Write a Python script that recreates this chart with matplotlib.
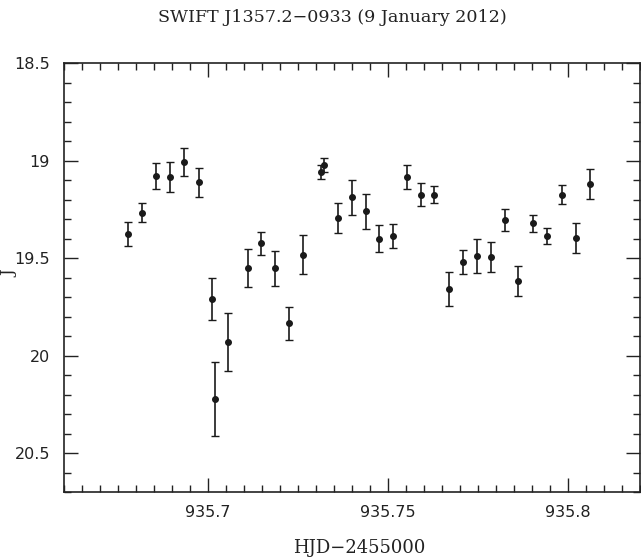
import numpy as np
import matplotlib
matplotlib.use("Agg")
import matplotlib.pyplot as plt
from matplotlib.ticker import MultipleLocator, FuncFormatter

# J-band light curve, SWIFT J1357.2-0933, 9 January 2012
hjd = [935.6778, 935.6817, 935.6856, 935.6895, 935.6934, 935.6974,
       935.7011, 935.7019, 935.7056, 935.7111, 935.7148, 935.7187,
       935.7224, 935.7265, 935.7313, 935.7322, 935.7361, 935.7400,
       935.7438, 935.7476, 935.7515, 935.7552, 935.7593, 935.7629,
       935.7670, 935.7708, 935.7748, 935.7785, 935.7824, 935.7862,
       935.7903, 935.7941, 935.7983, 935.8021, 935.8062]
jmag = [19.376, 19.266, 19.078, 19.081, 19.006, 19.110,
        19.709, 20.221, 19.931, 19.550, 19.423, 19.552,
        19.833, 19.481, 19.057, 19.021, 19.292, 19.188,
        19.260, 19.399, 19.385, 19.083, 19.173, 19.173,
        19.657, 19.518, 19.489, 19.491, 19.305, 19.615,
        19.321, 19.387, 19.173, 19.396, 19.117]
jerr = [0.061, 0.049, 0.065, 0.077, 0.070, 0.075,
        0.109, 0.188, 0.148, 0.099, 0.060, 0.090,
        0.085, 0.100, 0.036, 0.037, 0.077, 0.092,
        0.091, 0.071, 0.063, 0.061, 0.057, 0.044,
        0.088, 0.063, 0.087, 0.077, 0.056, 0.077,
        0.043, 0.042, 0.047, 0.078, 0.077]

W, H = 641, 559
fig = plt.figure(figsize=(W / 100, H / 100), dpi=100)
ax = fig.add_axes([64 / W, 66.7 / H, 576 / W, 429 / H])

ax.errorbar(hjd, jmag, yerr=jerr, fmt="o", ms=4, color="#1a1a1a",
            ecolor="#1a1a1a", elinewidth=1.2, capsize=2.8, capthick=1.0)

ax.set_xlim(935.66, 935.82)
ax.set_ylim(20.7, 18.5)

ax.xaxis.set_major_locator(MultipleLocator(0.05))
ax.xaxis.set_minor_locator(MultipleLocator(0.005))
ax.yaxis.set_major_locator(MultipleLocator(0.5))
ax.yaxis.set_minor_locator(MultipleLocator(0.1))
ax.xaxis.set_major_formatter(FuncFormatter(lambda v, p: f"{v:g}"))
ax.yaxis.set_major_formatter(FuncFormatter(lambda v, p: f"{v:g}"))

ax.tick_params(which="both", direction="in", top=True, right=True,
               width=1.0, color="#222222")
ax.tick_params(which="major", length=10, labelsize=11.5)
ax.tick_params(axis="x", which="major", pad=9)
ax.tick_params(axis="y", which="major", pad=10)
ax.tick_params(which="minor", length=5)
for lab in ax.get_xticklabels() + ax.get_yticklabels():
    lab.set_family("DejaVu Sans")
    lab.set_color("#222222")
for s in ax.spines.values():
    s.set_linewidth(1.2)
    s.set_color("#222222")

# axis labels and title placed where the reference has them
fig.text(359 / W, 1 - 548 / H, "HJD\u22122455000", family="DejaVu Serif",
         fontsize=13, ha="center", va="center", color="#222222")
fig.text(10 / W, 1 - 274 / H, "J", family="DejaVu Serif", fontsize=12,
         rotation=90, ha="center", va="center", color="#222222")
fig.text(332 / W, 1 - 18 / H, "SWIFT J1357.2\u22120933 (9 January 2012)",
         family="DejaVu Serif", fontsize=12.6, ha="center", va="center",
         color="#222222")

fig.savefig("out.png", dpi=100)
